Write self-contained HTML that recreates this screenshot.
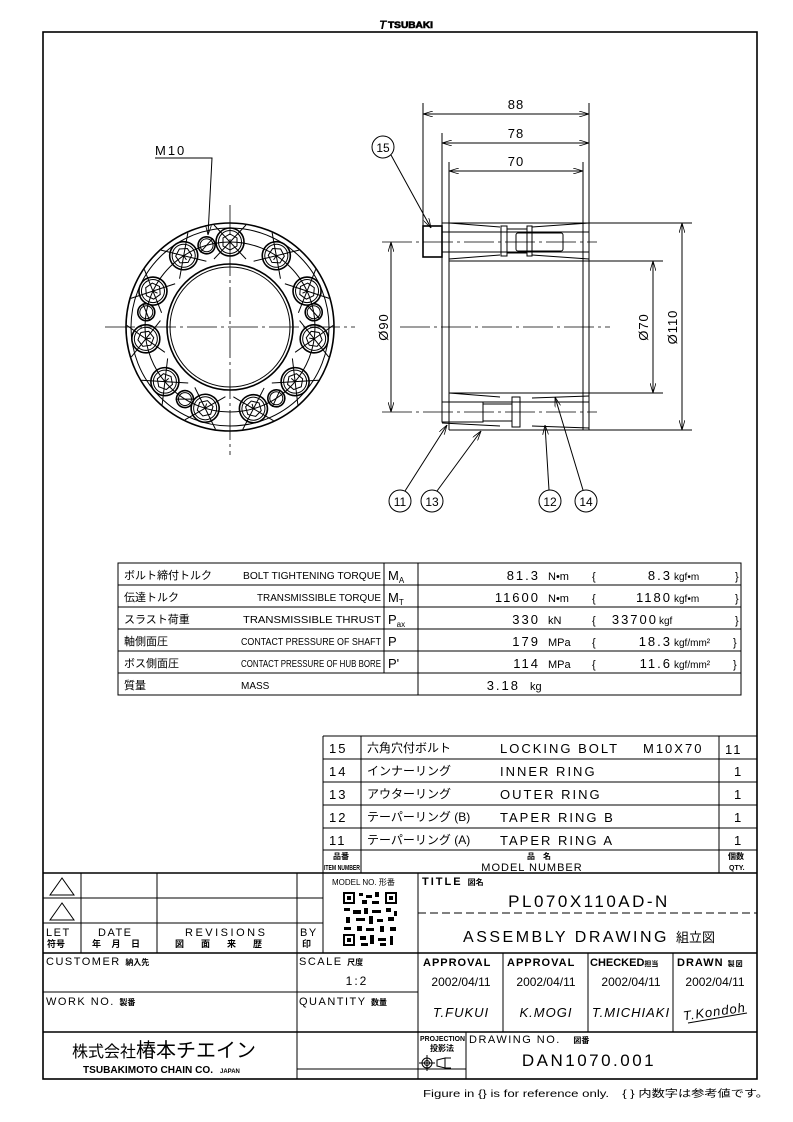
<!DOCTYPE html>
<html><head><meta charset="utf-8"><style>
html,body{margin:0;padding:0;background:#fff}
svg{display:block}
text{font-family:"Liberation Sans","Noto Sans CJK JP",sans-serif;fill:#000}
.t{stroke:#000;stroke-width:1;fill:none}
.th{stroke:#000;stroke-width:1.6;fill:none}
.cl{stroke:#000;stroke-width:0.8;fill:none;stroke-dasharray:30 4 3 4}
</style></head><body>
<svg width="793" height="1122" viewBox="0 0 793 1122" xmlns="http://www.w3.org/2000/svg">
<defs>
<marker id="a" markerWidth="10" markerHeight="6" refX="10" refY="3" orient="auto-start-reverse" markerUnits="userSpaceOnUse"><path d="M0,0 L10,3 L0,6" fill="none" stroke="#000" stroke-width="0.8"/></marker>
<g id="bolt"><circle cx="230" cy="242" r="14" class="th"/><circle cx="230" cy="242" r="11.5" class="t"/><polygon points="230,234 237,238 237,246 230,250 223,246 223,238" class="t"/><line x1="230" y1="242" x2="230" y2="247" class="t"/><line x1="214" y1="225" x2="246" y2="259" class="t" stroke-width="0.6"/><line x1="246" y1="225" x2="214" y2="259" class="t" stroke-width="0.6"/></g>
<g id="sm"><circle cx="230" cy="242" r="8.5" class="th"/><circle cx="230" cy="242" r="6.5" class="t"/><line x1="222" y1="247" x2="238" y2="237" class="t" stroke-width="0.6"/></g>
</defs>
<!-- logo -->
<text x="379" y="29" font-size="12" font-weight="bold" font-style="italic">T</text>
<text x="388" y="28" font-size="9" font-weight="bold" textLength="45" lengthAdjust="spacingAndGlyphs" stroke="#000" stroke-width="0.6">TSUBAKI</text>
<!-- frame -->
<rect x="43" y="32" width="714" height="1047" class="th"/>

<!-- FRONT VIEW -->
<line x1="105" y1="327" x2="355" y2="327" class="cl"/>
<line x1="230" y1="205" x2="230" y2="455" class="cl"/>
<circle cx="230" cy="327" r="104" class="th"/>
<circle cx="230" cy="327" r="99" class="t"/>
<circle cx="230" cy="327" r="85" class="t" stroke-width="0.8"/>
<circle cx="230" cy="327" r="63" class="th"/>
<circle cx="230" cy="327" r="60" class="t"/>
<g fill="#fff">
<use href="#bolt" transform="rotate(0 230 327)"/>
<use href="#bolt" transform="rotate(33 230 327)"/>
<use href="#bolt" transform="rotate(65 230 327)"/>
<use href="#bolt" transform="rotate(98 230 327)"/>
<use href="#bolt" transform="rotate(130 230 327)"/>
<use href="#bolt" transform="rotate(164 230 327)"/>
<use href="#bolt" transform="rotate(197 230 327)"/>
<use href="#bolt" transform="rotate(230 230 327)"/>
<use href="#bolt" transform="rotate(262 230 327)"/>
<use href="#bolt" transform="rotate(295 230 327)"/>
<use href="#bolt" transform="rotate(327 230 327)"/>
<use href="#sm" transform="rotate(344 230 327)"/>
<use href="#sm" transform="rotate(280 230 327)"/>
<use href="#sm" transform="rotate(80 230 327)"/>
<use href="#sm" transform="rotate(212 230 327)"/>
<use href="#sm" transform="rotate(147 230 327)"/>
</g>
<text x="155" y="155" font-size="13" letter-spacing="2">M10</text>
<polyline points="155,158 212,158 208,235" class="t" marker-end="url(#a)"/>

<!-- SIDE VIEW -->
<line x1="423" y1="103" x2="423" y2="257" class="t"/>
<line x1="442" y1="133" x2="442" y2="422" class="t"/>
<line x1="449" y1="162" x2="449" y2="430" class="t"/>
<line x1="583" y1="162" x2="583" y2="430" class="t"/>
<line x1="589" y1="103" x2="589" y2="430" class="t"/>
<line x1="423" y1="114" x2="589" y2="114" class="t" marker-start="url(#a)" marker-end="url(#a)"/>
<line x1="442" y1="143" x2="589" y2="143" class="t" marker-start="url(#a)" marker-end="url(#a)"/>
<line x1="449" y1="171" x2="583" y2="171" class="t" marker-start="url(#a)" marker-end="url(#a)"/>
<text x="516" y="109" font-size="13" text-anchor="middle" letter-spacing="1">88</text>
<text x="516" y="138" font-size="13" text-anchor="middle" letter-spacing="1">78</text>
<text x="516" y="166" font-size="13" text-anchor="middle" letter-spacing="1">70</text>
<line x1="442" y1="223" x2="692" y2="223" class="t"/>
<line x1="449" y1="261" x2="663" y2="261" class="t"/>
<line x1="449" y1="393" x2="663" y2="393" class="t"/>
<line x1="449" y1="430" x2="692" y2="430" class="t"/>
<line x1="442" y1="402" x2="589" y2="402" class="t"/>
<line x1="442" y1="422" x2="449" y2="422" class="t"/>
<polyline points="449,223 500,227" class="t"/><polyline points="532,227 589,223" class="t"/>
<line x1="442" y1="232" x2="589" y2="232" class="t" stroke-width="0.7"/>
<line x1="442" y1="252" x2="589" y2="252" class="t" stroke-width="0.7"/>
<polyline points="449,259 500,255" class="t"/><polyline points="532,255 589,259" class="t"/>
<rect x="423" y="226" width="19" height="31" class="th"/>
<rect x="516" y="233" width="47" height="18" rx="2" class="t"/>
<rect x="501" y="226" width="6" height="30" class="t"/><rect x="527" y="226" width="5" height="30" class="t"/>
<line x1="507" y1="229" x2="527" y2="229" class="t"/><line x1="507" y1="253" x2="527" y2="253" class="t"/>
<line x1="382" y1="242" x2="597" y2="242" class="cl"/>
<polyline points="449,393 500,397" class="t"/><polyline points="532,398 589,396" class="t"/>
<rect x="442" y="402" width="41" height="20" class="t"/>
<rect x="483" y="404" width="29" height="17" class="t"/>
<rect x="512" y="397" width="8" height="30" class="t"/>
<polyline points="442,423 500,426" class="t"/><polyline points="532,426 589,428" class="t"/>
<line x1="382" y1="412" x2="597" y2="412" class="cl"/>
<line x1="400" y1="327" x2="610" y2="327" class="cl"/>
<line x1="589" y1="223" x2="692" y2="223" class="t"/>
<line x1="682" y1="223" x2="682" y2="430" class="t" marker-start="url(#a)" marker-end="url(#a)"/>
<line x1="653" y1="261" x2="653" y2="393" class="t" marker-start="url(#a)" marker-end="url(#a)"/>
<line x1="391" y1="242" x2="391" y2="412" class="t" marker-start="url(#a)" marker-end="url(#a)"/>
<text transform="translate(388 327) rotate(-90)" font-size="13" text-anchor="middle" letter-spacing="1">Ø90</text>
<text transform="translate(648 327) rotate(-90)" font-size="13" text-anchor="middle" letter-spacing="1">Ø70</text>
<text transform="translate(677 327) rotate(-90)" font-size="13" text-anchor="middle" letter-spacing="1">Ø110</text>
<circle cx="383" cy="147" r="11" class="t"/><text x="383" y="152" font-size="12" text-anchor="middle">15</text>
<line x1="391" y1="155" x2="431" y2="228" class="t" marker-end="url(#a)"/>
<circle cx="400" cy="501" r="11" class="t"/><text x="400" y="506" font-size="12" text-anchor="middle">11</text>
<circle cx="432" cy="501" r="11" class="t"/><text x="432" y="506" font-size="12" text-anchor="middle">13</text>
<circle cx="550" cy="501" r="11" class="t"/><text x="550" y="506" font-size="12" text-anchor="middle">12</text>
<circle cx="586" cy="501" r="11" class="t"/><text x="586" y="506" font-size="12" text-anchor="middle">14</text>
<line x1="405" y1="491" x2="447" y2="425" class="t" marker-end="url(#a)"/>
<line x1="437" y1="491" x2="481" y2="431" class="t" marker-end="url(#a)"/>
<line x1="549" y1="490" x2="545" y2="425" class="t" marker-end="url(#a)"/>
<line x1="583" y1="490" x2="555" y2="397" class="t" marker-end="url(#a)"/>

<!-- SPEC TABLE -->
<rect x="118" y="563" width="623" height="132" class="t"/>
<g class="t">
<line x1="118" y1="585" x2="741" y2="585"/><line x1="118" y1="607" x2="741" y2="607"/>
<line x1="118" y1="629" x2="741" y2="629"/><line x1="118" y1="651" x2="741" y2="651"/>
<line x1="118" y1="673" x2="741" y2="673"/>
<line x1="384" y1="563" x2="384" y2="673"/><line x1="418" y1="563" x2="418" y2="695"/>
</g>
<g font-size="11">
<text x="124" y="579">ボルト締付トルク</text><text x="124" y="601">伝達トルク</text><text x="124" y="623">スラスト荷重</text>
<text x="124" y="645">軸側面圧</text><text x="124" y="667">ボス側面圧</text><text x="124" y="689">質量</text>
</g>
<g font-size="10">
<text x="243" y="579" textLength="138" lengthAdjust="spacingAndGlyphs">BOLT TIGHTENING TORQUE</text>
<text x="257" y="601" textLength="124" lengthAdjust="spacingAndGlyphs">TRANSMISSIBLE TORQUE</text>
<text x="243" y="623" textLength="138" lengthAdjust="spacingAndGlyphs">TRANSMISSIBLE THRUST</text>
<text x="241" y="645" textLength="140" lengthAdjust="spacingAndGlyphs">CONTACT PRESSURE OF SHAFT</text>
<text x="241" y="667" textLength="140" lengthAdjust="spacingAndGlyphs">CONTACT PRESSURE OF HUB BORE</text>
<text x="241" y="689">MASS</text>
</g>
<g font-size="13">
<text x="388" y="580">M<tspan font-size="8" dy="3">A</tspan></text>
<text x="388" y="602">M<tspan font-size="8" dy="3">T</tspan></text>
<text x="388" y="624">P<tspan font-size="8" dy="3">ax</tspan></text>
<text x="388" y="646">P</text><text x="388" y="668">P'</text>
</g>
<g font-size="13" letter-spacing="2" text-anchor="end">
<text x="540" y="580">81.3</text><text x="540" y="602">11600</text><text x="540" y="624">330</text>
<text x="540" y="646">179</text><text x="540" y="668">114</text><text x="520" y="690">3.18</text>
</g>
<g font-size="11">
<text x="548" y="580">N•m</text><text x="548" y="602">N•m</text><text x="548" y="624">kN</text>
<text x="548" y="646">MPa</text><text x="548" y="668">MPa</text><text x="530" y="690">kg</text>
<text x="592" y="580">{</text><text x="592" y="602">{</text><text x="592" y="624">{</text><text x="592" y="646">{</text><text x="592" y="668">{</text>
<text x="735" y="580">}</text><text x="735" y="602">}</text><text x="735" y="624">}</text><text x="733" y="646">}</text><text x="733" y="668">}</text>
</g>
<g font-size="13" letter-spacing="2" text-anchor="end">
<text x="672" y="580">8.3</text><text x="672" y="602">1180</text><text x="658" y="624">33700</text>
<text x="672" y="646">18.3</text><text x="672" y="668">11.6</text>
</g>
<g font-size="10">
<text x="674" y="580">kgf•m</text><text x="674" y="602">kgf•m</text><text x="659" y="624">kgf</text>
<text x="674" y="646">kgf/mm²</text><text x="674" y="668">kgf/mm²</text>
</g>

<!-- PARTS LIST -->
<g class="t">
<line x1="323" y1="736" x2="757" y2="736"/><line x1="323" y1="759" x2="757" y2="759"/>
<line x1="323" y1="782" x2="757" y2="782"/><line x1="323" y1="805" x2="757" y2="805"/>
<line x1="323" y1="828" x2="757" y2="828"/><line x1="323" y1="850" x2="757" y2="850"/>
<line x1="323" y1="736" x2="323" y2="953"/><line x1="361" y1="736" x2="361" y2="873"/>
<line x1="719" y1="736" x2="719" y2="873"/>
</g>
<g font-size="13" letter-spacing="2">
<text x="329" y="753">15</text><text x="329" y="776">14</text><text x="329" y="799">13</text><text x="329" y="822">12</text><text x="329" y="845">11</text>
<text x="500" y="753">LOCKING BOLT</text><text x="643" y="753">M10X70</text><text x="725" y="754">11</text>
<text x="500" y="776">INNER RING</text><text x="500" y="799">OUTER RING</text>
<text x="500" y="822">TAPER RING B</text><text x="500" y="845">TAPER RING A</text>
<text x="734" y="776">1</text><text x="734" y="799">1</text><text x="734" y="822">1</text><text x="734" y="845">1</text>
</g>
<g font-size="12">
<text x="367" y="752">六角穴付ボルト</text><text x="367" y="775">インナーリング</text><text x="367" y="798">アウターリング</text>
<text x="367" y="821">テーパーリング (B)</text><text x="367" y="844">テーパーリング (A)</text>
</g>
<text x="333" y="859" font-size="8" font-weight="bold">品番</text>
<text x="324" y="870" font-size="7" font-weight="bold" textLength="36" lengthAdjust="spacingAndGlyphs">ITEM NUMBER</text>
<text x="527" y="859" font-size="8" font-weight="bold">品　名</text>
<text x="532" y="871" font-size="11" text-anchor="middle" letter-spacing="1">MODEL NUMBER</text>
<text x="728" y="859" font-size="8" font-weight="bold">個数</text>
<text x="729" y="870" font-size="7" font-weight="bold">QTY.</text>

<!-- TITLE BLOCK -->
<g class="t">
<line x1="43" y1="873" x2="757" y2="873" stroke-width="1.5"/>
<line x1="43" y1="898" x2="323" y2="898"/><line x1="43" y1="923" x2="323" y2="923"/>
<line x1="43" y1="953" x2="757" y2="953" stroke-width="1.5"/>
<line x1="43" y1="992" x2="418" y2="992"/>
<line x1="43" y1="1032" x2="757" y2="1032" stroke-width="1.5"/>
<line x1="297" y1="1069" x2="466" y2="1069"/>
<line x1="81" y1="873" x2="81" y2="953"/><line x1="157" y1="873" x2="157" y2="953"/>
<line x1="297" y1="873" x2="297" y2="1079"/><line x1="418" y1="873" x2="418" y2="1079"/>
<line x1="503" y1="953" x2="503" y2="1032"/><line x1="588" y1="953" x2="588" y2="1032"/><line x1="673" y1="953" x2="673" y2="1032"/>
<line x1="466" y1="1032" x2="466" y2="1079"/>
<line x1="418" y1="913" x2="757" y2="913" stroke-dasharray="8 4"/>
<polygon points="62,878 50,895 74,895"/><polygon points="62,903 50,920 74,920"/>
</g>
<g font-size="11" letter-spacing="1.5">
<text x="46" y="936">LET</text><text x="98" y="936">DATE</text><text x="185" y="936" letter-spacing="2.5">REVISIONS</text><text x="300" y="936">BY</text>
</g>
<g font-size="9" font-weight="bold">
<text x="47" y="947">符号</text><text x="92" y="947" letter-spacing="4">年 月 日</text>
<text x="175" y="947" letter-spacing="17">図面来歴</text><text x="302" y="947">印</text>
</g>
<text x="332" y="885" font-size="8">MODEL NO. 形番</text>
<g fill="#000">
<rect x="343" y="892" width="12" height="12"/><rect x="345" y="894" width="8" height="8" fill="#fff"/><rect x="347" y="896" width="4" height="4"/>
<rect x="385" y="892" width="12" height="12"/><rect x="387" y="894" width="8" height="8" fill="#fff"/><rect x="389" y="896" width="4" height="4"/>
<rect x="343" y="934" width="12" height="12"/><rect x="345" y="936" width="8" height="8" fill="#fff"/><rect x="347" y="938" width="4" height="4"/>
<rect x="359" y="893" width="4" height="3"/><rect x="366" y="895" width="6" height="3"/><rect x="375" y="892" width="4" height="5"/><rect x="362" y="900" width="5" height="4"/><rect x="372" y="901" width="7" height="3"/>
<rect x="344" y="908" width="6" height="3"/><rect x="353" y="910" width="8" height="4"/><rect x="364" y="908" width="4" height="6"/><rect x="372" y="910" width="9" height="3"/><rect x="386" y="908" width="5" height="4"/><rect x="394" y="911" width="3" height="5"/>
<rect x="346" y="917" width="4" height="6"/><rect x="356" y="918" width="9" height="3"/><rect x="369" y="916" width="4" height="8"/><rect x="377" y="919" width="6" height="3"/><rect x="388" y="917" width="6" height="4"/>
<rect x="344" y="927" width="7" height="3"/><rect x="357" y="926" width="5" height="5"/><rect x="366" y="928" width="8" height="3"/><rect x="380" y="926" width="4" height="6"/><rect x="390" y="927" width="6" height="4"/>
<rect x="360" y="936" width="6" height="4"/><rect x="370" y="935" width="4" height="9"/><rect x="378" y="938" width="8" height="3"/><rect x="390" y="936" width="3" height="9"/><rect x="361" y="943" width="7" height="3"/><rect x="380" y="943" width="6" height="3"/>
</g>
<text x="46" y="965" font-size="11" letter-spacing="1.5">CUSTOMER <tspan font-size="8" font-weight="bold" letter-spacing="0">納入先</tspan></text>
<text x="46" y="1005" font-size="11" letter-spacing="1.5">WORK NO. <tspan font-size="8" font-weight="bold" letter-spacing="0">製番</tspan></text>
<text x="299" y="965" font-size="11" letter-spacing="1.5">SCALE <tspan font-size="8" font-weight="bold" letter-spacing="0">尺度</tspan></text>
<text x="357" y="985" font-size="12" text-anchor="middle" letter-spacing="2">1:2</text>
<text x="299" y="1005" font-size="11" letter-spacing="1.5">QUANTITY <tspan font-size="8" font-weight="bold" letter-spacing="0">数量</tspan></text>
<text x="72" y="1057" font-size="16">株式会社<tspan font-size="20">椿本チエイン</tspan></text>
<text x="83" y="1073" font-size="10" font-weight="bold" textLength="130" lengthAdjust="spacingAndGlyphs">TSUBAKIMOTO CHAIN CO.</text>
<text x="220" y="1073" font-size="6" font-weight="bold">JAPAN</text>
<text x="422" y="885" font-size="11" font-weight="bold" letter-spacing="2">TITLE <tspan font-size="8" letter-spacing="0">図名</tspan></text>
<text x="589" y="907" font-size="17" text-anchor="middle" letter-spacing="2.5">PL070X110AD-N</text>
<text x="589" y="942" font-size="16" text-anchor="middle" letter-spacing="2.5">ASSEMBLY DRAWING <tspan font-size="13" letter-spacing="0">組立図</tspan></text>
<g font-size="11" font-weight="bold" letter-spacing="1">
<text x="423" y="966">APPROVAL</text><text x="507" y="966">APPROVAL</text><text x="590" y="966" letter-spacing="0">CHECKED<tspan font-size="7">担当</tspan></text><text x="677" y="966">DRAWN <tspan font-size="7">製図</tspan></text>
</g>
<g font-size="12" text-anchor="middle">
<text x="461" y="986">2002/04/11</text><text x="546" y="986">2002/04/11</text><text x="631" y="986">2002/04/11</text><text x="715" y="986">2002/04/11</text>
</g>
<g font-size="13" font-style="italic" text-anchor="middle" letter-spacing="1">
<text x="461" y="1017">T.FUKUI</text><text x="546" y="1017">K.MOGI</text><text x="631" y="1017">T.MICHIAKI</text>
<text x="715" y="1016" transform="rotate(-8 715 1016)">T.Kondoh</text>
</g>
<line x1="688" y1="1023" x2="747" y2="1013" class="t"/>
<text x="420" y="1041" font-size="7" font-weight="bold" textLength="45" lengthAdjust="spacingAndGlyphs">PROJECTION</text>
<text x="430" y="1051" font-size="8" font-weight="bold">投影法</text>
<circle cx="427" cy="1063" r="5" class="t"/><circle cx="427" cy="1063" r="2.5" class="t"/>
<line x1="419" y1="1063" x2="435" y2="1063" class="t"/><line x1="427" y1="1055" x2="427" y2="1071" class="t"/>
<polygon points="437,1060 445,1058 445,1068 437,1066" class="t"/><line x1="445" y1="1058" x2="451" y2="1058" class="t"/><line x1="445" y1="1068" x2="451" y2="1068" class="t"/>
<text x="469" y="1043" font-size="11" letter-spacing="1.5">DRAWING NO. <tspan font-size="8" font-weight="bold" letter-spacing="0">　図番</tspan></text>
<text x="589" y="1066" font-size="17" text-anchor="middle" letter-spacing="2.5">DAN1070.001</text>
<text x="423" y="1097" font-size="10" textLength="346" lengthAdjust="spacingAndGlyphs">Figure in {} is for reference only.　{ } 内数字は参考値です。</text>
</svg>
</body></html>
